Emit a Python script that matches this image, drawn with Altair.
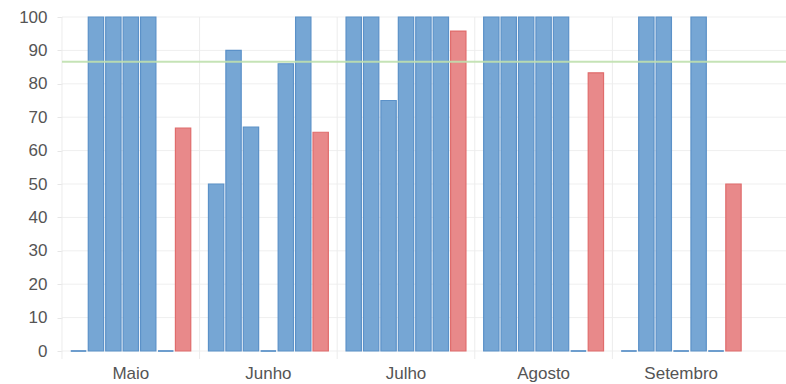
import altair as alt
import pandas as pd

months = ["Maio", "Junho", "Julho", "Agosto", "Setembro"]
series_names = ["S1", "S2", "S3", "S4", "S5", "S6", "Média"]
s1 = [0, 50, 100, 100, 0]
s2 = [100, 90, 100, 100, 100]
s3 = [100, 67, 75, 100, 100]
s4 = [100, 0, 100, 100, 0]
s5 = [100, 86, 100, 100, 100]
s6 = [0, 100, 100, 0, 0]
media = [66.7, 65.5, 95.8, 83.3, 50]
meta = [86.6]
y_ticks = [0, 10, 20, 30, 40, 50, 60, 70, 80, 90, 100]

W, H = 688, 334
FULL_W = 724

cols = [s1, s2, s3, s4, s5, s6, media]
rows = []
for name, vals in zip(series_names, cols):
    for m, v in zip(months, vals):
        rows.append({"month": m, "series": name, "value": v})
df = pd.DataFrame(rows)

blue_fill, blue_stroke = "#76a6d4", "#5b91c8"
red_fill, red_stroke = "#e8898a", "#e06c6c"
fills = [blue_fill] * 6 + [red_fill]
strokes = [blue_stroke] * 6 + [red_stroke]

font = "Liberation Sans"
x_scale = alt.Scale(domain=months, paddingInner=0.116, paddingOuter=0.058)
x_axis = alt.Axis(title=None, labelAngle=0, grid=False, ticks=False,
                  domain=False, labelFontSize=17, labelColor="#555555",
                  labelFont=font, labelPadding=14)
x_enc = alt.X("month:N", sort=months, scale=x_scale, axis=x_axis)
y_enc = alt.Y(
    "value:Q", scale=alt.Scale(domain=[0, 100]),
    axis=alt.Axis(title=None, values=y_ticks, grid=False, domain=False,
                  tickColor="#e6e6e6", tickSize=5, labelFontSize=17,
                  labelColor="#555555", labelFont=font, labelPadding=10),
)
xo = alt.XOffset("series:N", sort=series_names,
                 scale=alt.Scale(paddingInner=0.12, paddingOuter=0.05))
color = alt.Color("series:N", scale=alt.Scale(domain=series_names, range=fills), legend=None)
stroke = alt.Stroke("series:N", scale=alt.Scale(domain=series_names, range=strokes), legend=None)

grid = alt.Chart(pd.DataFrame({"value": y_ticks})).mark_rule(
    color="#efefef", strokeWidth=1
).encode(y=y_enc, x=alt.value(0), x2=alt.value(FULL_W))

vgrid = alt.Chart(pd.DataFrame({"month": months})).mark_rule(
    color="#ececec", strokeWidth=1, xOffset=-8
).encode(x=alt.X("month:N", sort=months, scale=x_scale, bandPosition=0, axis=x_axis),
         y=alt.value(0), y2=alt.value(H + 8))

bars = alt.Chart(df).mark_bar(strokeWidth=1.2).encode(
    x=x_enc, xOffset=xo, y=y_enc, color=color, stroke=stroke
)

zero_bars = alt.Chart(df).transform_filter("datum.value == 0").mark_bar(
    strokeWidth=1
).encode(
    x=x_enc, xOffset=xo, y=y_enc, y2=alt.value(H + 4), color=color, stroke=stroke
)

goal = alt.Chart(pd.DataFrame({"value": meta})).mark_rule(
    color="#bfe0ae", strokeWidth=2, opacity=0.9
).encode(y=y_enc, x=alt.value(0), x2=alt.value(FULL_W))

chart = alt.layer(grid, vgrid, bars, zero_bars, goal).properties(
    width=W, height=H,
    autosize=alt.AutoSizeParams(type="none"),
    padding={"left": 62, "top": 17, "right": 36, "bottom": 33},
).configure(background="white", view=alt.ViewConfig(stroke=None))

chart.save("out.html", embed_options={"renderer": "svg", "actions": False})
